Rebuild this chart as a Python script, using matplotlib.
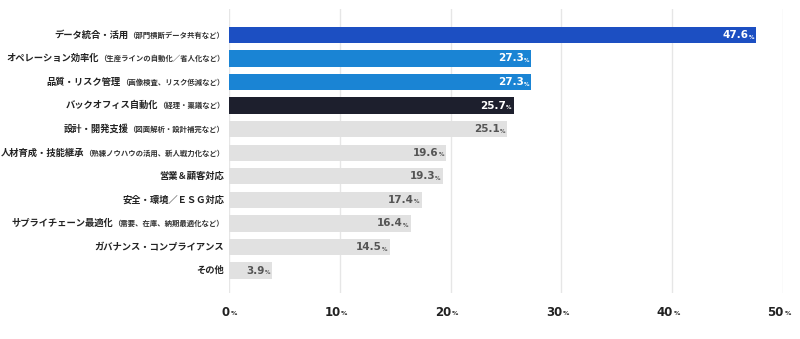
import matplotlib
matplotlib.use("Agg")
import matplotlib.pyplot as plt
from matplotlib.offsetbox import TextArea, HPacker, AnnotationBbox

plt.rcParams['font.family'] = ['Noto Sans CJK JP', 'DejaVu Sans']

# 項目名（本体）と補足（括弧内）
labels = [
    "データ統合・活用", "オペレーション効率化", "品質・リスク管理", "バックオフィス自動化",
    "設計・開発支援", "人材育成・技能継承", "営業＆顧客対応", "安全・環境／ＥＳＧ対応",
    "サプライチェーン最適化", "ガバナンス・コンプライアンス", "その他",
]
notes = [
    "（部門横断データ共有など）", "（生産ラインの自動化／省人化など）", "（画像検査、リスク低減など）",
    "（経理・稟議など）", "（図面解析・設計補完など）", "（熟練ノウハウの活用、新人戦力化など）",
    "", "", "（需要、在庫、納期最適化など）", "", "",
]
values = [47.6, 27.3, 27.3, 25.7, 25.1, 19.6, 19.3, 17.4, 16.4, 14.5, 3.9]
colors = ["#1c4fc2", "#1a84d4", "#1a84d4", "#1d1f2d"] + ["#e1e1e1"] * 7
text_colors = ["white"] * 4 + ["#555555"] * 7
xticks = [0, 10, 20, 30, 40, 50]

num_font = dict(family=['DejaVu Sans'], fontweight='bold')

fig = plt.figure(figsize=(8, 3.39), dpi=100)
ax = fig.add_axes([229 / 800, 46 / 339, 554 / 800, 284 / 339])

ypos = list(range(len(values)))
ax.barh(ypos, values, height=0.69, color=colors, zorder=2)

for y, v, tc in zip(ypos, values, text_colors):
    ax.annotate(f"{v}", (v, y), xytext=(-5.5, 0), textcoords="offset points",
                ha="right", va="center", fontsize=7.5, color=tc, zorder=3, **num_font)
    ax.annotate("%", (v, y), xytext=(-1.5, -1.5), textcoords="offset points",
                ha="right", va="center", fontsize=4, color=tc, zorder=3, **num_font)

# 軸ラベル：本体は太字、括弧内は小さく
for y, lab, note in zip(ypos, labels, notes):
    parts = [TextArea(lab, textprops=dict(fontsize=6.7, fontweight="bold", color="#222222"))]
    if note:
        parts.append(TextArea(note, textprops=dict(fontsize=5.3, fontweight="bold", color="#333333")))
    box = HPacker(children=parts, align="baseline", pad=0, sep=0)
    ab = AnnotationBbox(box, (0, y), xycoords=("axes fraction", "data"),
                        xybox=(-3.5, 0), boxcoords="offset points",
                        box_alignment=(1, 0.5), frameon=False, annotation_clip=False)
    ax.add_artist(ab)

ax.set_xlim(0, 50)
ax.set_ylim(len(values) - 0.05, -1.1)
ax.set_xticks(xticks)
ax.set_xticklabels([])
for x in xticks:
    ax.axvline(x, color="#e6e6e6", lw=1, zorder=1)
    ax.annotate(f"{x}", (x, 0), xycoords=("data", "axes fraction"), xytext=(0.5, -14),
                textcoords="offset points", ha="right", va="center", fontsize=8.5,
                color="#222222", annotation_clip=False, **num_font)
    ax.annotate("%", (x, 0), xycoords=("data", "axes fraction"), xytext=(1, -15),
                textcoords="offset points", ha="left", va="center", fontsize=4.5,
                color="#222222", annotation_clip=False, **num_font)
ax.set_yticks([])
ax.tick_params(length=0)
for s in ax.spines.values():
    s.set_visible(False)

fig.savefig("out.png", dpi=100, facecolor="white")
